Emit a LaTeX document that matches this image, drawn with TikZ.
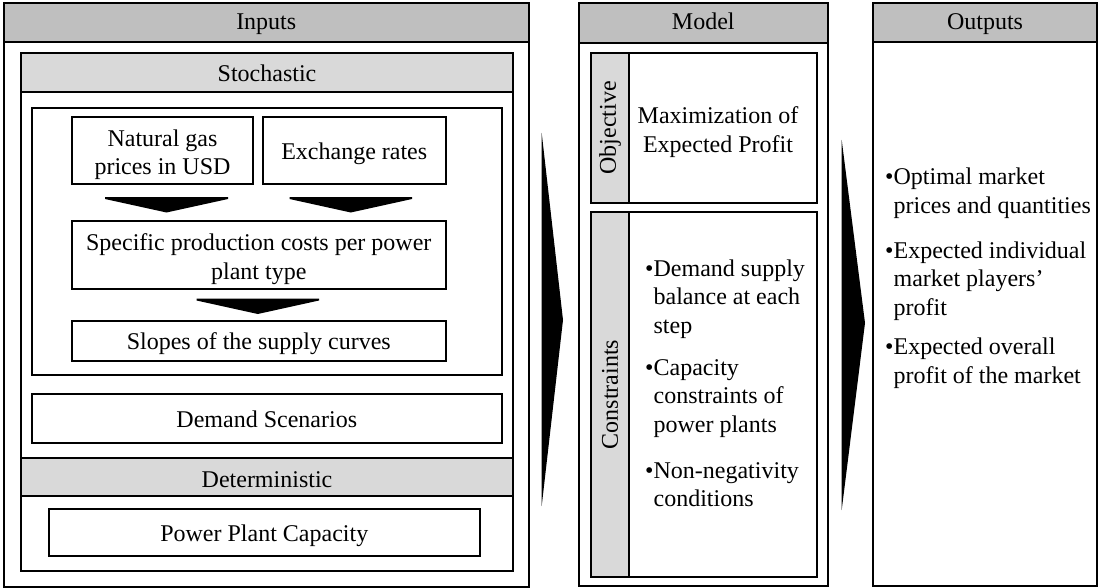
\documentclass[tikz,border=0pt]{standalone}
\usepackage{fontspec}
\setmainfont{Liberation Serif}
\usetikzlibrary{fit}
\definecolor{hgray}{RGB}{191,191,191}
\definecolor{lgray}{RGB}{217,217,217}
\begin{document}
\begin{tikzpicture}[x=1pt,y=-1pt,
  every node/.style={font=\fontsize{24}{28.5}\selectfont, inner sep=0pt},
  frame/.style={draw=black, line width=2pt},
  hdr/.style={fill=hgray, draw=black, line width=2pt},
  band/.style={fill=lgray, draw=black, line width=2pt},
  ctr/.style={anchor=base},
  ln/.style={anchor=base west},
  chev/.style={fill=black, draw=none}]
\useasboundingbox (0,0) rectangle (1099,588);
\fill[white] (0,0) rectangle (1099,588);

% ---------- Inputs ----------
\node[hdr, fit={(3.5,3.5)(529,42)}] (inhdr) {};
\node[frame, fit={(3.5,3.5)(529,586.5)}] (inbox) {};
\node[ctr] (intxt) at (inhdr.center |- 0,30) {Inputs};

\node[band, fit={(21,53.5)(513,92)}] (sthdr) {};
\node[band, fit={(21,458)(513,496)}] (dthdr) {};
\node[frame, fit={(21,53.5)(513,571)}] (stbox) {};
\node[ctr] (sttxt) at (sthdr.center |- 0,82) {Stochastic};
\node[ctr] (dttxt) at (dthdr.center |- 0,487) {Deterministic};

\node[frame, fit={(31.6,108.5)(501.6,374.5)}] (inner) {};
\node[frame, fit={(72,117)(253,184)}] (ng) {};
\node[frame, fit={(263,117)(445.5,184)}] (ex) {};
\node[frame, fit={(72,221)(445.5,289)}] (sp) {};
\node[frame, fit={(72,321)(445.5,361)}] (sl) {};
\node[frame, fit={(31.6,394)(502,443)}] (dm) {};
\node[frame, fit={(49,508.5)(479.5,556)}] (pp) {};

\node[ctr] (ngtxt1) at (ng.center |- 0,146.5) {Natural gas};
\node[ctr] (ngtxt2) at (ng.center |- 0,175) {prices in USD};
\node[ctr] (extxt) at (ex.center |- 0,160) {Exchange rates};
\node[ctr] (sptxt1) at (sp.center |- 0,250) {Specific production costs per power};
\node[ctr] (sptxt2) at (sp.center |- 0,279.5) {plant type};
\node[ctr] (sltxt) at (sl.center |- 0,349) {Slopes of the supply curves};
\node[ctr] (dmtxt) at (dm.center |- 0,427) {Demand Scenarios};
\node[ctr] (pptxt) at (pp.center |- 0,541) {Power Plant Capacity};

\fill[chev] (105,197) -- (228,197) -- (228,199) -- (166.5,212.5) -- (105,199) -- cycle;
\fill[chev] (289.5,197) -- (412,197) -- (412,199) -- (350.8,212.5) -- (289.5,199) -- cycle;
\fill[chev] (196.5,298.5) -- (319,298.5) -- (319,300.5) -- (257.8,314) -- (196.5,300.5) -- cycle;

% big arrows
\fill[chev] (541.7,133) -- (563,320) -- (541.7,506) -- cycle;
\fill[chev] (841.7,140) -- (865,323) -- (841.7,510) -- cycle;

% ---------- Model ----------
\node[hdr, fit={(578.5,3.5)(828,43)}] (mdhdr) {};
\node[frame, fit={(578.5,3.5)(828,586)}] (mdbox) {};
\node[ctr] (mdtxt) at (mdhdr.center |- 0,30) {Model};

\node[band, fit={(591,53)(629,203)}] (objstrip) {};
\node[frame, fit={(591,53)(817,203)}] (objbox) {};
\node[rotate=90] (objlab) at (objstrip.center) {Objective};
\node[ctr] (ob1) at (718,123.5) {Maximization of};
\node[ctr] (ob2) at (718,153) {Expected Profit};

\node[band, fit={(591,212)(629,577)}] (constrip) {};
\node[frame, fit={(591,212)(817,577)}] (conbox) {};
\node[rotate=90] (conlab) at (constrip.center) {Constraints};

\node[ln] (c1) at (645,276) {•Demand supply};
\node[ln] (c2) at (645,304.5) {\hphantom{•}balance at each};
\node[ln] (c3) at (645,333) {\hphantom{•}step};
\node[ln] (c4) at (645,375) {•Capacity};
\node[ln] (c5) at (645,403.5) {\hphantom{•}constraints of};
\node[ln] (c6) at (645,432) {\hphantom{•}power plants};
\node[ln] (c7) at (645,478) {•Non-negativity};
\node[ln] (c8) at (645,506.5) {\hphantom{•}conditions};

% ---------- Outputs ----------
\node[hdr, fit={(873,3.5)(1097,42)}] (ouhdr) {};
\node[frame, fit={(873,3.5)(1097,586)}] (oubox) {};
\node[ctr] (outxt) at (ouhdr.center |- 0,30) {Outputs};

\node[ln] (o1) at (885,185) {•Optimal market};
\node[ln] (o2) at (885,213.5) {\hphantom{•}prices and quantities};
\node[ln] (o3) at (885,258) {•Expected individual};
\node[ln] (o4) at (885,286.5) {\hphantom{•}market players’};
\node[ln] (o5) at (885,315) {\hphantom{•}profit};
\node[ln] (o6) at (885,354.5) {•Expected overall};
\node[ln] (o7) at (885,383) {\hphantom{•}profit of the market};
\end{tikzpicture}
\end{document}
